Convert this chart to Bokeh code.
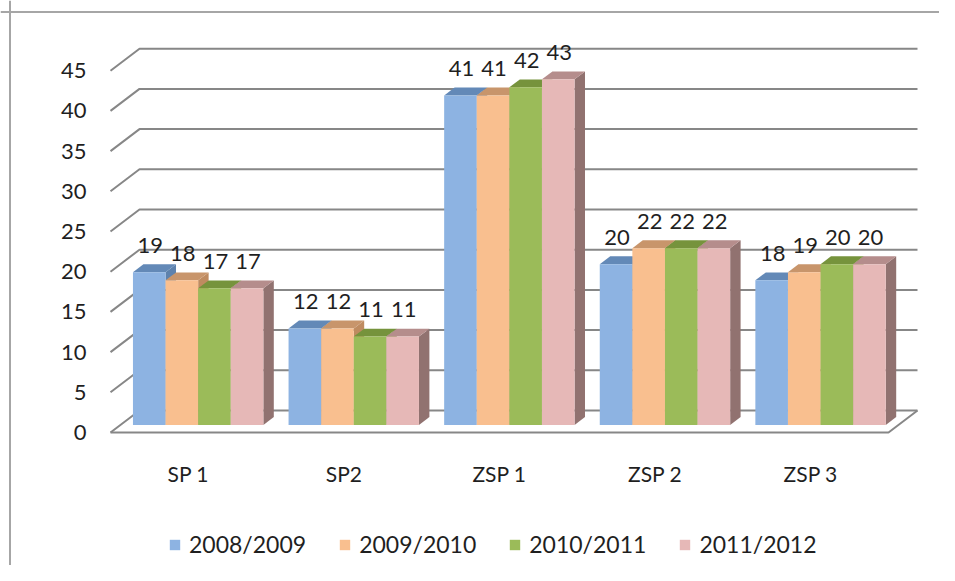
from bokeh.plotting import figure
from bokeh.models import Range1d, Span, Legend, LegendItem, ColumnDataSource
from bokeh.core.properties import value
from bokeh.embed import file_html
from bokeh.resources import INLINE

# ---- data ----
categories = ["SP 1", "SP2", "ZSP 1", "ZSP 2", "ZSP 3"]
series_names = ["2008/2009", "2009/2010", "2010/2011", "2011/2012"]
v_2008_2009 = [19, 12, 41, 20, 18]
v_2009_2010 = [18, 12, 41, 22, 19]
v_2010_2011 = [17, 11, 42, 22, 20]
v_2011_2012 = [17, 11, 43, 22, 20]
series_values = [v_2008_2009, v_2009_2010, v_2010_2011, v_2011_2012]
y_ticks = [0, 5, 10, 15, 20, 25, 30, 35, 40, 45]

# ---- styles ----
front_colors = ["#8DB3E2", "#F9BF8F", "#9BBB59", "#E6B8B7"]
top_colors = ["#6389B7", "#C8956B", "#76933C", "#B58D8C"]
side_colors = ["#5E82AD", "#BF8B60", "#6E8B37", "#917270"]
grid_color = "#878787"
text_color = "#1f1f1f"
FONT = "Lato"

W, H = 939, 565
px_per_cat = 155.6
px_per_unit = 8.04
left_px = 110     # frame left -> front floor left
zero_px = 133     # frame bottom -> front floor zero

x0 = -left_px / px_per_cat
y0 = -zero_px / px_per_unit
p = figure(width=W, height=H,
           x_range=Range1d(x0, x0 + W / px_per_cat),
           y_range=Range1d(y0, y0 + H / px_per_unit),
           output_backend="svg", toolbar_location=None, min_border=0,
           x_axis_location=None, y_axis_location=None)
p.grid.visible = False
p.outline_line_color = None
p.background_fill_color = "white"

# depth projection (floor depth)
DX = 29 / px_per_cat
DY = 22 / px_per_unit
d0, d1 = 0.34, 0.70
ncat = len(categories)

# ---- gridlines (left wall diagonal + back wall) ----
gxs, gys = [], []
for t in y_ticks:
    gxs.append([0, DX, ncat + DX])
    gys.append([t, t + DY, t + DY])
p.multi_line(gxs, gys, line_color=grid_color, line_width=2)
# floor front edge and right edge
p.line([0, ncat, ncat + DX], [0, 0, DY], line_color=grid_color, line_width=2)

# ---- bars ----
nser = len(series_values)
bar_w = 32.6 / px_per_cat
group_w = nser * bar_w
fdx, fdy = d0 * DX, d0 * DY
bdx, bdy = (d1 - d0) * DX, (d1 - d0) * DY

front_renderers = []
for j, vals in enumerate(series_values):
    lefts = [i + 0.5 - group_w / 2 + j * bar_w + fdx for i in range(ncat)]
    rights = [l + bar_w for l in lefts]
    bottoms = [fdy] * ncat
    tops = [fdy + v for v in vals]
    # side faces
    sx = [[r, r + bdx, r + bdx, r] for r in rights]
    sy = [[b, b + bdy, t + bdy, t] for b, t in zip(bottoms, tops)]
    p.patches(sx, sy, fill_color=side_colors[j], line_color=None)
    # top faces
    tx = [[l, r, r + bdx, l + bdx] for l, r in zip(lefts, rights)]
    ty = [[t, t, t + bdy, t + bdy] for t in tops]
    p.patches(tx, ty, fill_color=top_colors[j], line_color=None)
    # front faces
    r = p.quad(left=lefts, right=rights, bottom=bottoms, top=tops,
               fill_color=front_colors[j], line_color=None)
    front_renderers.append(r)
    # data labels
    lab = ColumnDataSource(dict(
        x=[(l + rr) / 2 + 1 / px_per_cat for l, rr in zip(lefts, rights)],
        y=[t + 27 / px_per_unit for t in tops],
        text=[str(v) for v in vals]))
    p.text(x="x", y="y", text="text", source=lab, text_font=value(FONT),
           text_font_size="22px", text_align="center", text_baseline="middle",
           text_color=text_color)

# ---- y tick labels ----
p.text(x=[-24 / px_per_cat] * len(y_ticks), y=y_ticks, text=[str(t) for t in y_ticks],
       text_font=value(FONT), text_font_size="22px", text_align="right",
       text_baseline="middle", text_color=text_color)

# ---- category labels ----
p.text(x=[i + 0.5 for i in range(ncat)], y=[-41 / px_per_unit] * ncat, text=categories,
       text_font=value(FONT), text_font_size="21px", text_align="center",
       text_baseline="middle", text_color=text_color)

# ---- chart border (left & top visible) ----
p.add_layout(Span(location=x0 + 9.5 / px_per_cat, dimension="height",
                  line_color="#a6a6a6", line_width=2))
p.add_layout(Span(location=y0 + H / px_per_unit - 11.5 / px_per_unit, dimension="width",
                  line_color="#a6a6a6", line_width=2))

# ---- legend ----
legend = Legend(items=[LegendItem(label=n, renderers=[r]) for n, r in zip(series_names, front_renderers)],
                orientation="horizontal", location=(168, 7),
                border_line_color=None, background_fill_alpha=0,
                padding=0, margin=0, spacing=32,
                glyph_width=13, glyph_height=13, label_standoff=8,
                label_text_font=FONT, label_text_font_size="23px",
                label_text_color=text_color, label_height=22)
p.add_layout(legend)

open("out.html", "w").write(file_html(p, INLINE))
